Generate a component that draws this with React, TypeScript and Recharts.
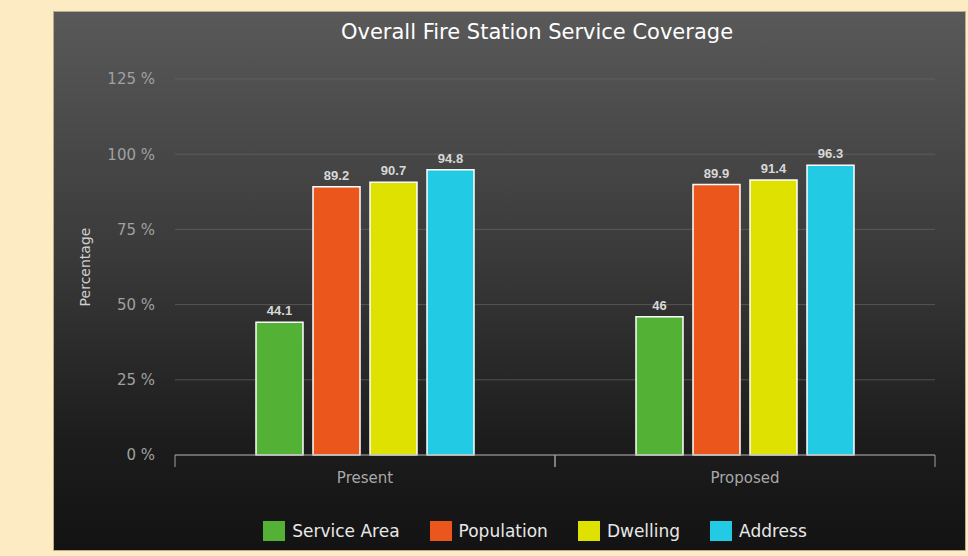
import { BarChart, Bar, XAxis, YAxis, CartesianGrid, LabelList } from "recharts";

const periods = ["Present", "Proposed"];
const seriesNames = ["Service Area", "Population", "Dwelling", "Address"];
const seriesKeys = ["service", "population", "dwelling", "address"];
const seriesColors = ["#53b235", "#ea561b", "#dfe100", "#23cae3"];
const serviceArea = [44.1, 46];
const population = [89.2, 89.9];
const dwelling = [90.7, 91.4];
const address = [94.8, 96.3];
const yTicks = [0, 25, 50, 75, 100, 125];

const data = periods.map((p, i) => ({
    period: p,
    service: serviceArea[i],
    population: population[i],
    dwelling: dwelling[i],
    address: address[i],
}));

const font = "'DejaVu Sans', 'Open Sans', sans-serif";

// category label plus tick marks at the band edges (half a band either side)
const CategoryTick = (props: any) => {
    const { x, y, payload } = props;
    const half = payload.offset || 0;
    return (
        <g>
            <line x1={x - half} x2={x - half} y1={y} y2={y + 12} stroke="#a0a0a0" />
            <line x1={x + half} x2={x + half} y1={y} y2={y + 12} stroke="#a0a0a0" />
            <text x={x} y={y + 28} textAnchor="middle" fill="#a8a8a8" fontSize={15} fontFamily={font}>
                {payload.value}
            </text>
        </g>
    );
};

export default function App() {
    return (
        <div style={{ position: "absolute", left: 0, top: 0, width: 968, height: 556, background: "#fdebc3" }}>
            <div
                style={{
                    position: "absolute",
                    left: 53,
                    top: 11,
                    width: 911,
                    height: 538,
                    border: "1px solid #b9ab8c",
                    background: "linear-gradient(to bottom, #595959 0%, #3a3a3a 45%, #1c1c1c 80%, #131313 100%)",
                }}
            >
                <div
                    style={{
                        position: "absolute",
                        left: 0,
                        top: 8,
                        width: 966,
                        textAlign: "center",
                        color: "#ffffff",
                        fontFamily: font,
                        fontSize: 21,
                    }}
                >
                    Overall Fire Station Service Coverage
                </div>
                <BarChart
                    width={911}
                    height={538}
                    data={data}
                    margin={{ top: 67, right: 30, bottom: 0, left: 0 }}
                    barSize={47}
                    barGap={10}
                >
                    <CartesianGrid vertical={false} stroke="#6a6a6a" strokeOpacity={0.6} />
                    <XAxis
                        dataKey="period"
                        height={95}
                        tickLine={false}
                        tickSize={0}
                        tickMargin={0}
                        axisLine={{ stroke: "#a0a0a0" }}
                        tick={<CategoryTick />}
                    />
                    <YAxis
                        width={121}
                        domain={[0, 125]}
                        ticks={yTicks}
                        tickFormatter={(v: number) => `${v} %`}
                        tick={{ fill: "#a0a0a0", fontSize: 15, fontFamily: font }}
                        tickLine={false}
                        axisLine={false}
                        tickMargin={14}
                        label={{
                            value: "Percentage",
                            angle: -90,
                            position: "insideLeft",
                            offset: 31,
                            fill: "#cfcfcf",
                            fontSize: 14,
                            fontFamily: font,
                            style: { textAnchor: "middle" },
                        }}
                    />
                    {seriesKeys.map((k, i) => (
                        <Bar
                            key={k}
                            dataKey={k}
                            name={seriesNames[i]}
                            fill={seriesColors[i]}
                            stroke="#ffffff"
                            strokeWidth={1.5}
                            isAnimationActive={false}
                        >
                            <LabelList
                                dataKey={k}
                                position="top"
                                offset={7}
                                fill="#d8d8d8"
                                fontSize={13}
                                fontWeight="bold"
                                fontFamily="'Liberation Sans', Arial, sans-serif"
                            />
                        </Bar>
                    ))}
                </BarChart>
                <div
                    style={{
                        position: "absolute",
                        left: 0,
                        top: 509,
                        width: 962,
                        display: "flex",
                        justifyContent: "center",
                        gap: 30,
                        fontFamily: font,
                        fontSize: 17,
                        color: "#e8e8e8",
                    }}
                >
                    {seriesNames.map((n, i) => (
                        <div key={n} style={{ display: "flex", alignItems: "center" }}>
                            <span
                                style={{
                                    display: "inline-block",
                                    width: 22,
                                    height: 20,
                                    background: seriesColors[i],
                                    marginRight: 7,
                                }}
                            />
                            {n}
                        </div>
                    ))}
                </div>
            </div>
        </div>
    );
}
